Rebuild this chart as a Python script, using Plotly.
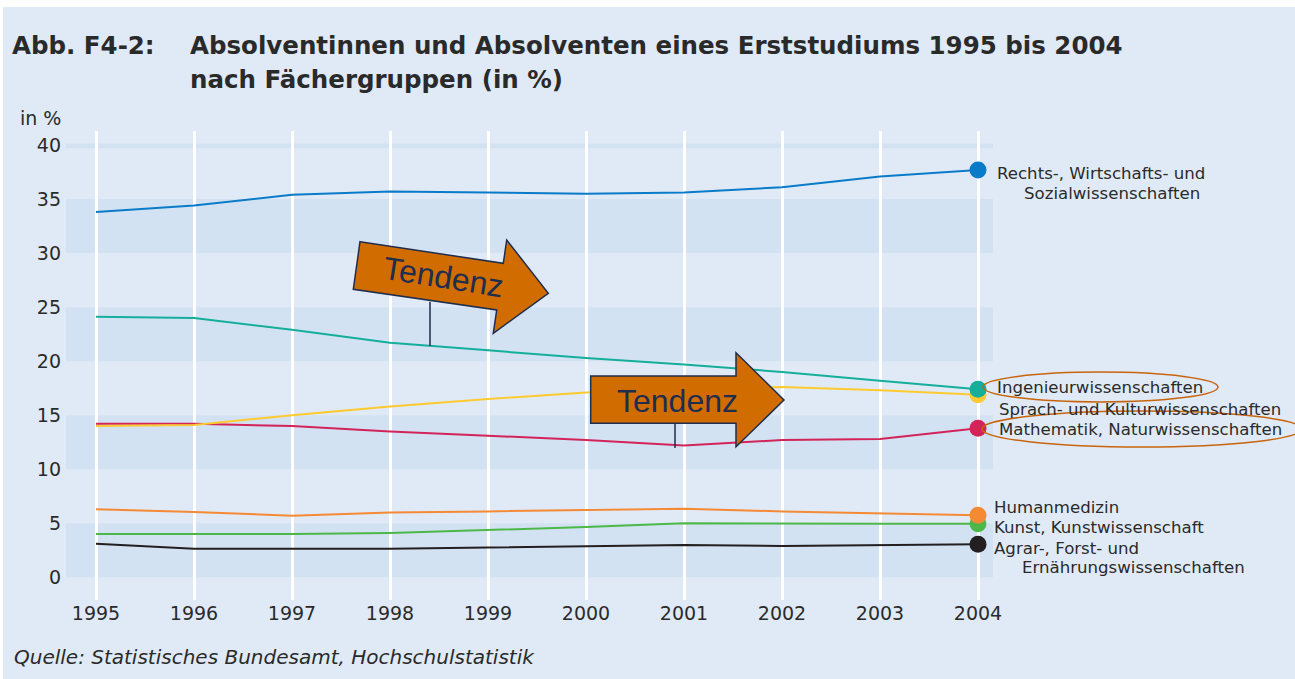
import plotly.graph_objects as go

# ---------------- data ----------------
years = [1995, 1996, 1997, 1998, 1999, 2000, 2001, 2002, 2003, 2004]
rechts = [33.8, 34.4, 35.4, 35.7, 35.6, 35.5, 35.6, 36.1, 37.1, 37.7]
ingenieur = [24.1, 24.0, 22.9, 21.7, 21.0, 20.3, 19.7, 19.0, 18.2, 17.4]
sprach = [14.0, 14.1, 15.0, 15.8, 16.5, 17.1, 17.4, 17.6, 17.3, 16.9]
mathe = [14.2, 14.2, 14.0, 13.5, 13.1, 12.7, 12.2, 12.7, 12.8, 13.8]
human = [6.3, 6.05, 5.7, 6.0, 6.1, 6.25, 6.35, 6.1, 5.95, 5.75]
kunst = [4.0, 4.0, 4.0, 4.1, 4.35, 4.65, 5.0, 4.95, 4.95, 4.95]
agrar = [3.1, 2.65, 2.65, 2.65, 2.75, 2.9, 3.0, 2.9, 3.0, 3.05]
y_ticks = [0, 5, 10, 15, 20, 25, 30, 35, 40]

series = [
    ("Agrar", agrar, "#231f20"),
    ("Kunst", kunst, "#4cb848"),
    ("Human", human, "#f58a34"),
    ("Mathe", mathe, "#d3245a"),
    ("Sprach", sprach, "#fdca30"),
    ("Ingenieur", ingenieur, "#14ae9a"),
    ("Rechts", rechts, "#0a7bc8"),
]

# ---------------- layout geometry ----------------
W, H = 1295, 679
L, R, T, B = 66, 993, 131, 600
PW, PH = R - L, B - T
XR = [1995 - 30 / 98, 2004 + 15 / 98]
YR = [-2.1, 41.3]

def dx(px):
    return XR[0] + (px - L) / PW * (XR[1] - XR[0])

def dy(py):
    return YR[1] - (py - T) / PH * (YR[1] - YR[0])

def pxx(px):
    return (px - L) / PW

def pyy(py):
    return (B - py) / PH

BG = "#e0eaf6"
BAND = "#d3e2f3"
TXT = "#2a2a2a"
FONT = "DejaVu Sans, Verdana, sans-serif"
NAVY = "#1f2d4f"
ORANGE = "#d06c00"

fig = go.Figure()

for name, vals, col in series:
    fig.add_trace(go.Scatter(x=years, y=vals, mode="lines", line=dict(color=col, width=2),
                             hoverinfo="skip", showlegend=False))
for name, vals, col in series:
    fig.add_trace(go.Scatter(x=[years[-1]], y=[vals[-1]], mode="markers",
                             marker=dict(color=col, size=17, line=dict(width=0)),
                             hoverinfo="skip", showlegend=False, cliponaxis=False))

shapes = []
# background with white top/left edge
shapes.append(dict(type="rect", xref="paper", yref="paper", x0=pxx(3), x1=pxx(W + 5), y0=pyy(H + 5), y1=pyy(7),
                   fillcolor=BG, line=dict(width=0), layer="below"))
for lo, hi in [(0, 5), (10, 15), (20, 25), (30, 35), (39.7, 40.15)]:
    shapes.append(dict(type="rect", xref="paper", yref="y", x0=0, x1=1, y0=lo, y1=hi,
                       fillcolor=BAND, line=dict(width=0), layer="below"))

def path(points):
    return "M " + " L ".join(f"{dx(a):.5f},{dy(b):.5f}" for a, b in points) + " Z"

arrow1 = [(360, 241.7), (503.3, 263.3), (506.7, 240), (548.3, 293.3), (493.3, 333.3), (496.7, 310), (353.3, 289.3)]
arrow2 = [(590.7, 376), (736, 376), (736, 352.7), (784, 400), (736, 446.7), (736, 423.3), (590.7, 423.3)]
for pts in (arrow1, arrow2):
    shapes.append(dict(type="path", xref="x", yref="y", path=path(pts), fillcolor=ORANGE,
                       line=dict(color=NAVY, width=1.5), layer="above"))
for (a, b, c) in [(430, 301.7, 346), (675, 423.3, 448)]:
    shapes.append(dict(type="line", xref="x", yref="y", x0=dx(a), x1=dx(a), y0=dy(b), y1=dy(c),
                       line=dict(color=NAVY, width=1.5), layer="above"))
# ellipses
for (x0, x1, y0, y1) in [(983, 1218, 372, 402), (982, 1302, 411, 447)]:
    shapes.append(dict(type="circle", xref="paper", yref="paper", x0=pxx(x0), x1=pxx(x1), y0=pyy(y1), y1=pyy(y0),
                       line=dict(color="#c8650c", width=1.5), fillcolor="rgba(0,0,0,0)", layer="above"))

ann = []
def text(px, py, s, size=16.6, anchor="left", family=FONT, color=TXT, bold=False, italic=False, angle=0):
    if bold:
        s = f"<b>{s}</b>"
    if italic:
        s = f"<i>{s}</i>"
    ann.append(dict(xref="paper", yref="paper", x=pxx(px), y=pyy(py), text=s, showarrow=False,
                    xanchor=anchor, yanchor="middle", textangle=angle,
                    font=dict(family=family, size=size, color=color)))

text(10, 46, "Abb. F4-2:", size=24.5, bold=True)
text(188, 46, "Absolventinnen und Absolventen eines Erststudiums 1995 bis 2004", size=24.5, bold=True)
text(188, 79, "nach Fächergruppen (in %)", size=24.5, bold=True)
text(18, 118, "in %", size=19)
text(12, 657, "Quelle: Statistisches Bundesamt, Hochschulstatistik", size=20, italic=True)

text(995, 173, "Rechts-, Wirtschafts- und")
text(1022, 193, "Sozialwissenschaften")
text(995, 388, "Ingenieurwissenschaften")
text(997, 409, "Sprach- und Kulturwissenschaften")
text(997, 429, "Mathematik, Naturwissenschaften")
text(992, 507, "Humanmedizin")
text(992, 527, "Kunst, Kunstwissenschaft")
text(992, 548, "Agrar-, Forst- und")
text(1020, 567, "Ernährungswissenschaften")

text(443, 277, "Tendenz", size=32, anchor="center", family="Liberation Sans, Arial, sans-serif", color=NAVY, angle=9)
text(677, 401, "Tendenz", size=32, anchor="center", family="Liberation Sans, Arial, sans-serif", color=NAVY)

fig.update_layout(
    width=W, height=H,
    margin=dict(l=L, r=W - R, t=T, b=H - B, pad=0),
    paper_bgcolor="white", plot_bgcolor="rgba(0,0,0,0)",
    shapes=shapes, annotations=ann, showlegend=False,
    xaxis=dict(range=XR, tickvals=years, ticktext=[str(y) for y in years], showgrid=True,
               gridcolor="white", gridwidth=3, zeroline=False, showline=False, ticks="",
               tickfont=dict(family=FONT, size=19, color=TXT), fixedrange=True),
    yaxis=dict(range=YR, tickvals=y_ticks, ticktext=[str(v) for v in y_ticks], showgrid=False,
               zeroline=False, showline=False, ticks="", ticklabelstandoff=4,
               tickfont=dict(family=FONT, size=19, color=TXT), fixedrange=True),
)

fig.write_html("out.html", config={"displayModeBar": False},
               post_script="document.body.style.margin='0';document.body.style.overflow='hidden';")
